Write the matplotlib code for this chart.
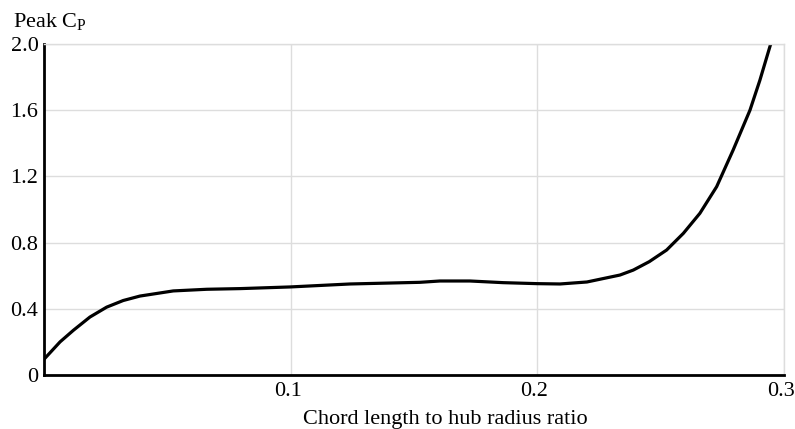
import matplotlib.pyplot as plt
from matplotlib.transforms import ScaledTranslation

# peak power coefficient vs chord/hub-radius ratio
ratio = [0.0, 0.0065, 0.0119, 0.0186, 0.0254, 0.0321, 0.0389, 0.0524, 0.066,
         0.0795, 0.0997, 0.1241, 0.1524, 0.1605, 0.1727, 0.1861, 0.1999,
         0.2092, 0.2201, 0.2335, 0.2389, 0.2454, 0.2524, 0.2592, 0.2659,
         0.2727, 0.2794, 0.2862, 0.2902, 0.2944, 0.2955]
peak_cp = [0.095, 0.20, 0.27, 0.35, 0.41, 0.45, 0.477, 0.508, 0.518,
           0.522, 0.532, 0.55, 0.56, 0.568, 0.568, 0.558, 0.552,
           0.55, 0.562, 0.604, 0.634, 0.685, 0.755, 0.856, 0.977,
           1.138, 1.36, 1.60, 1.78, 1.99, 2.03]

xticks = [0.1, 0.2, 0.3]
xticklabels = ["0.1", "0.2", "0.3"]
yticks = [0, 0.4, 0.8, 1.2, 1.6, 2.0]
yticklabels = ["0", "0.4", "0.8", "1.2", "1.6", "2.0"]

plt.rcParams['font.family'] = ['Liberation Serif', 'DejaVu Serif']
plt.rcParams['mathtext.fontset'] = 'custom'
plt.rcParams['mathtext.rm'] = 'Liberation Serif'

fig = plt.figure(figsize=(7.95, 4.29), dpi=100)
ax = fig.add_axes([44/795, 54/429, 740/795, 331/429])

ax.plot(ratio, peak_cp, color="black", lw=2.3, solid_joinstyle="round")

ax.set_xlim(0, 0.3)
ax.set_ylim(0, 2.0)
ax.set_xticks(xticks)
ax.set_xticklabels(xticklabels)
ax.set_yticks(yticks)
ax.set_yticklabels(yticklabels)
ax.tick_params(length=0, labelsize=16)
ax.tick_params(axis="x", pad=5)
ax.tick_params(axis="y", pad=4)
ax.grid(True, color="#dddddd", lw=1)

# labels sit a few pixels left of their tick in the original
for lab in ax.get_xticklabels():
    lab.set_transform(lab.get_transform() + ScaledTranslation(-3/100, 0, fig.dpi_scale_trans))

for s in ["top", "right"]:
    ax.spines[s].set_color("#dddddd")
    ax.spines[s].set_linewidth(1)
for s in ["left", "bottom"]:
    ax.spines[s].set_color("black")
    ax.spines[s].set_linewidth(2)

fig.text(13/795, 1 - 27/429, r"Peak C$_\mathrm{P}$", fontsize=16, va="baseline", ha="left")
fig.text(303/795, 1 - 424/429, "Chord length to hub radius ratio", fontsize=16,
         va="baseline", ha="left")

fig.savefig("out.png", dpi=100)
